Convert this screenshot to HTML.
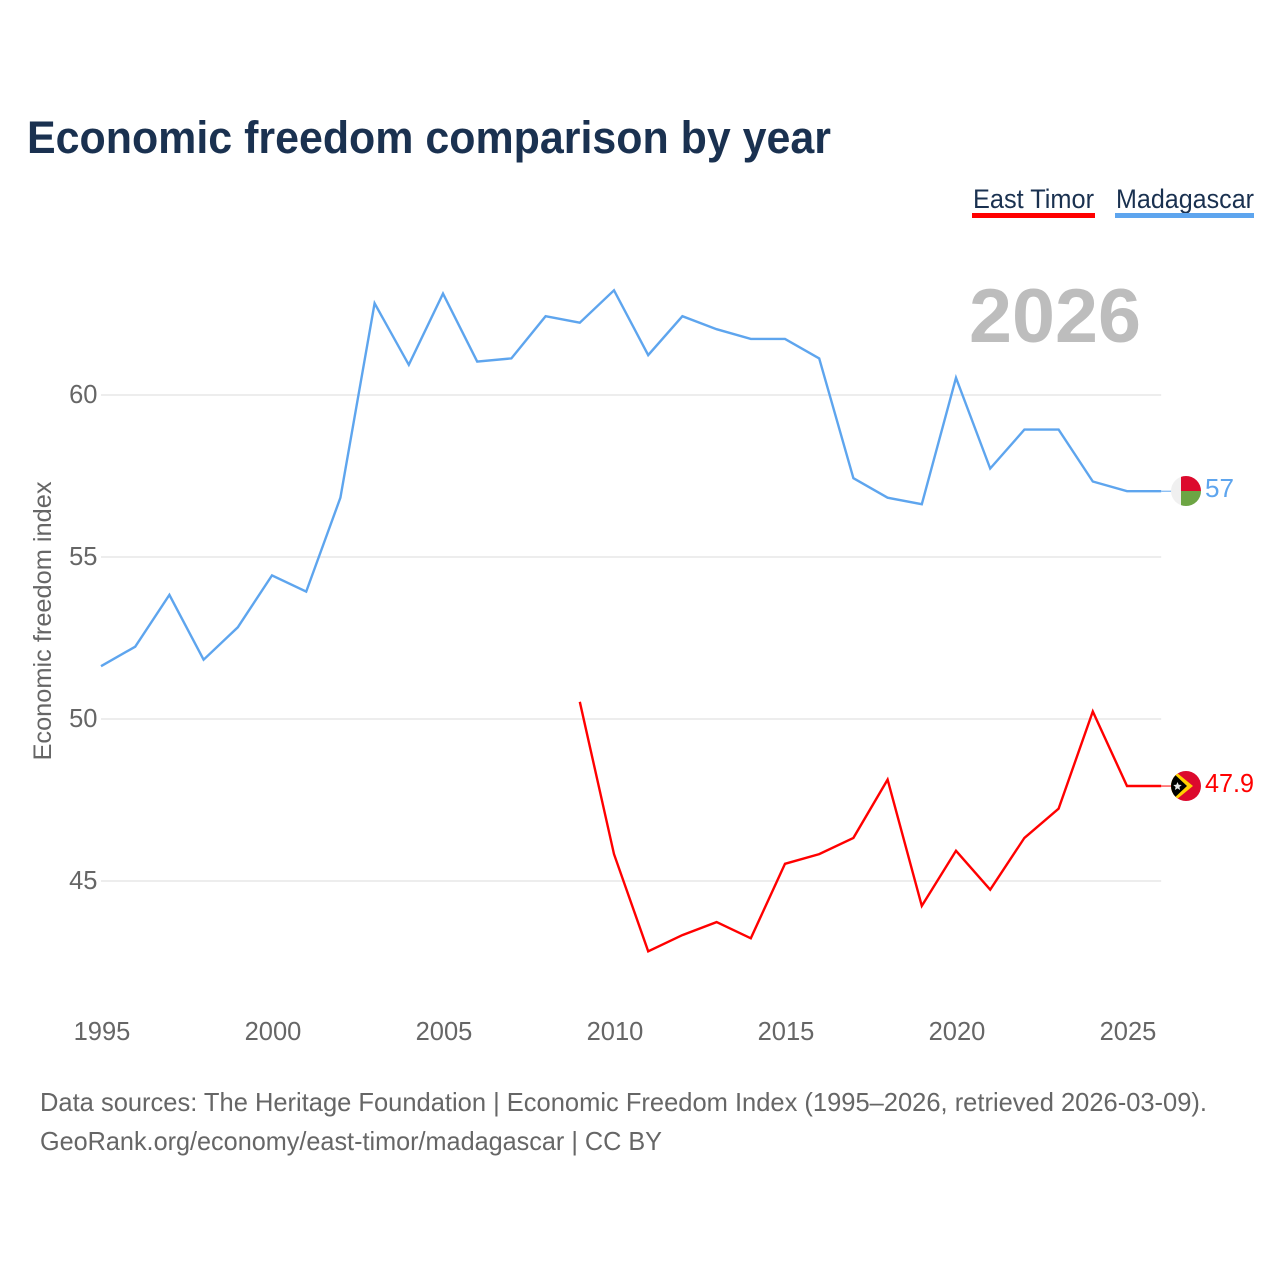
<!DOCTYPE html>
<html lang="en">
<head>
<meta charset="utf-8">
<title>Economic freedom comparison by year</title>
<style>
  html, body { margin: 0; padding: 0; background: #fff; }
  svg { display: block; font-family: "Liberation Sans", sans-serif; }
</style>
</head>
<body>
<svg id="chart" xmlns="http://www.w3.org/2000/svg" width="1280" height="1280" viewBox="0 0 1280 1280">
  <defs>
    <clipPath id="flag-clip-mg"><circle cx="1186" cy="491" r="15"/></clipPath>
    <clipPath id="flag-clip-tl"><circle cx="1186" cy="786" r="15"/></clipPath>
  </defs>
  <rect x="0" y="0" width="1280" height="1280" fill="#ffffff"/>
  <text x="27" y="153" font-size="45" font-weight="700" fill="#1a3150" textLength="804" lengthAdjust="spacingAndGlyphs">Economic freedom comparison by year</text>

  <g>
    <g>
      <text x="973" y="208" font-size="27" fill="#1a3150" textLength="121" lengthAdjust="spacingAndGlyphs">East Timor</text>
      <rect x="972" y="213" width="123" height="5" fill="#ff0000"/>
    </g>
    <g>
      <text x="1116" y="208" font-size="27" fill="#1a3150" textLength="138" lengthAdjust="spacingAndGlyphs">Madagascar</text>
      <rect x="1115" y="213" width="139" height="5" fill="#5ea5ee"/>
    </g>
  </g>

  <text x="969" y="342" font-size="76" font-weight="700" fill="#bdbdbd" textLength="172" lengthAdjust="spacingAndGlyphs">2026</text>

  <g id="grid"></g>
  <g id="y-axis"></g>
  <g id="x-axis"></g>

  <text transform="translate(51,621) rotate(-90)" text-anchor="middle" font-size="25" fill="#666666" textLength="279" lengthAdjust="spacingAndGlyphs">Economic freedom index</text>

  <g id="series"></g>

  <g id="flag-mg" clip-path="url(#flag-clip-mg)">
    <rect x="1171" y="476" width="30" height="30" fill="#f0f0f0"/>
    <rect x="1181" y="476" width="20" height="15" fill="#dc0a2d"/>
    <rect x="1181" y="491" width="20" height="15" fill="#6da544"/>
  </g>
  <g id="flag-tl" clip-path="url(#flag-clip-tl)">
    <rect x="1171" y="771" width="30" height="30" fill="#dc0a2d"/>
    <polygon points="1171,768 1193,786 1171,804" fill="#ffd100"/>
    <polygon points="1171,771 1187,786 1171,801" fill="#000000"/>
    <polygon points="1177.5,782 1178.7,784.8 1181.7,785 1179.4,787 1180.1,790 1177.5,788.4 1174.9,790 1175.6,787 1173.3,785 1176.3,784.8" fill="#e8e8e8"/>
  </g>

  <text x="1205" y="497" font-size="26" fill="#5ea5ee" textLength="29" lengthAdjust="spacingAndGlyphs">57</text>
  <text x="1205" y="792" font-size="26" fill="#ff0000" textLength="49" lengthAdjust="spacingAndGlyphs">47.9</text>

  <text x="40" y="1111" font-size="26" fill="#666666" textLength="1167" lengthAdjust="spacingAndGlyphs">Data sources: The Heritage Foundation | Economic Freedom Index (1995–2026, retrieved 2026-03-09).</text>
  <text x="40" y="1150" font-size="26" fill="#666666" textLength="622" lengthAdjust="spacingAndGlyphs">GeoRank.org/economy/east-timor/madagascar | CC BY</text>
</svg>

<script>
const years = [1995,1996,1997,1998,1999,2000,2001,2002,2003,2004,2005,2006,2007,2008,2009,2010,2011,2012,2013,2014,2015,2016,2017,2018,2019,2020,2021,2022,2023,2024,2025,2026];
const madagascarValues = [51.6,52.2,53.8,51.8,52.8,54.4,53.9,56.8,62.8,60.9,63.1,61.0,61.1,62.4,62.2,63.2,61.2,62.4,62.0,61.7,61.7,61.1,57.4,56.8,56.6,60.5,57.7,58.9,58.9,57.3,57.0,57.0];
const eastTimorValues = [null,null,null,null,null,null,null,null,null,null,null,null,null,null,50.5,45.8,42.8,43.3,43.7,43.2,45.5,45.8,46.3,48.1,44.2,45.9,44.7,46.3,47.2,50.2,47.9,47.9];
const yTicks = [45,50,55,60];
const xTicks = [1995,2000,2005,2010,2015,2020,2025];

const SVG_NS = 'http://www.w3.org/2000/svg';
const xScale = function (year) { return 101 + (year - 1995) * 34.2; };
const yScale = function (value) { return 395 + (60 - value) * 32.4; };
const lineY = function (value) { return yScale(value) - 1; };

function make(tag, attrs, parent) {
  const el = document.createElementNS(SVG_NS, tag);
  Object.keys(attrs).forEach(function (k) { el.setAttribute(k, attrs[k]); });
  parent.appendChild(el);
  return el;
}

const gridGroup = document.getElementById('grid');
const yAxisGroup = document.getElementById('y-axis');
const xAxisGroup = document.getElementById('x-axis');
const seriesGroup = document.getElementById('series');

yTicks.forEach(function (t) {
  const line = make('line', { x1: xScale(1995), x2: xScale(2026), y1: yScale(t), y2: yScale(t), stroke: '#ededed', 'stroke-width': 2 }, gridGroup);
  
  
  const label = make('text', { x: 97.5, y: yScale(t) + 8, 'text-anchor': 'end', 'font-size': 25.5, fill: '#666666' }, yAxisGroup);
  
  
  label.textContent = String(t);
});

xTicks.forEach(function (t) {
  const label = make('text', { x: xScale(t) + 1, y: 1040, 'text-anchor': 'middle', 'font-size': 25.5, fill: '#666666' }, xAxisGroup);
  
  
  label.textContent = String(t);
});

function linePoints(values) {
  const pts = [];
  values.forEach(function (v, i) {
    if (v !== null) pts.push(xScale(years[i]).toFixed(1) + ',' + lineY(v).toFixed(1));
  });
  return pts.join(' ');
}

const madagascarLine = make('polyline', { points: linePoints(madagascarValues), fill: 'none', stroke: '#5ea5ee', 'stroke-width': 2.4, 'stroke-linejoin': 'miter' }, seriesGroup);



const eastTimorLine = make('polyline', { points: linePoints(eastTimorValues), fill: 'none', stroke: '#ff0000', 'stroke-width': 2.4, 'stroke-linejoin': 'miter' }, seriesGroup);



const lastMg = madagascarValues[madagascarValues.length - 1];
const lastTl = eastTimorValues[eastTimorValues.length - 1];

const connectorMg = make('line', { x1: xScale(2026), x2: 1172, y1: lineY(lastMg), y2: lineY(lastMg), stroke: '#5ea5ee', 'stroke-width': 1 }, seriesGroup);



const connectorTl = make('line', { x1: xScale(2026), x2: 1172, y1: lineY(lastTl), y2: lineY(lastTl), stroke: '#ff0000', 'stroke-width': 1 }, seriesGroup);


</script>
</body>
</html>
